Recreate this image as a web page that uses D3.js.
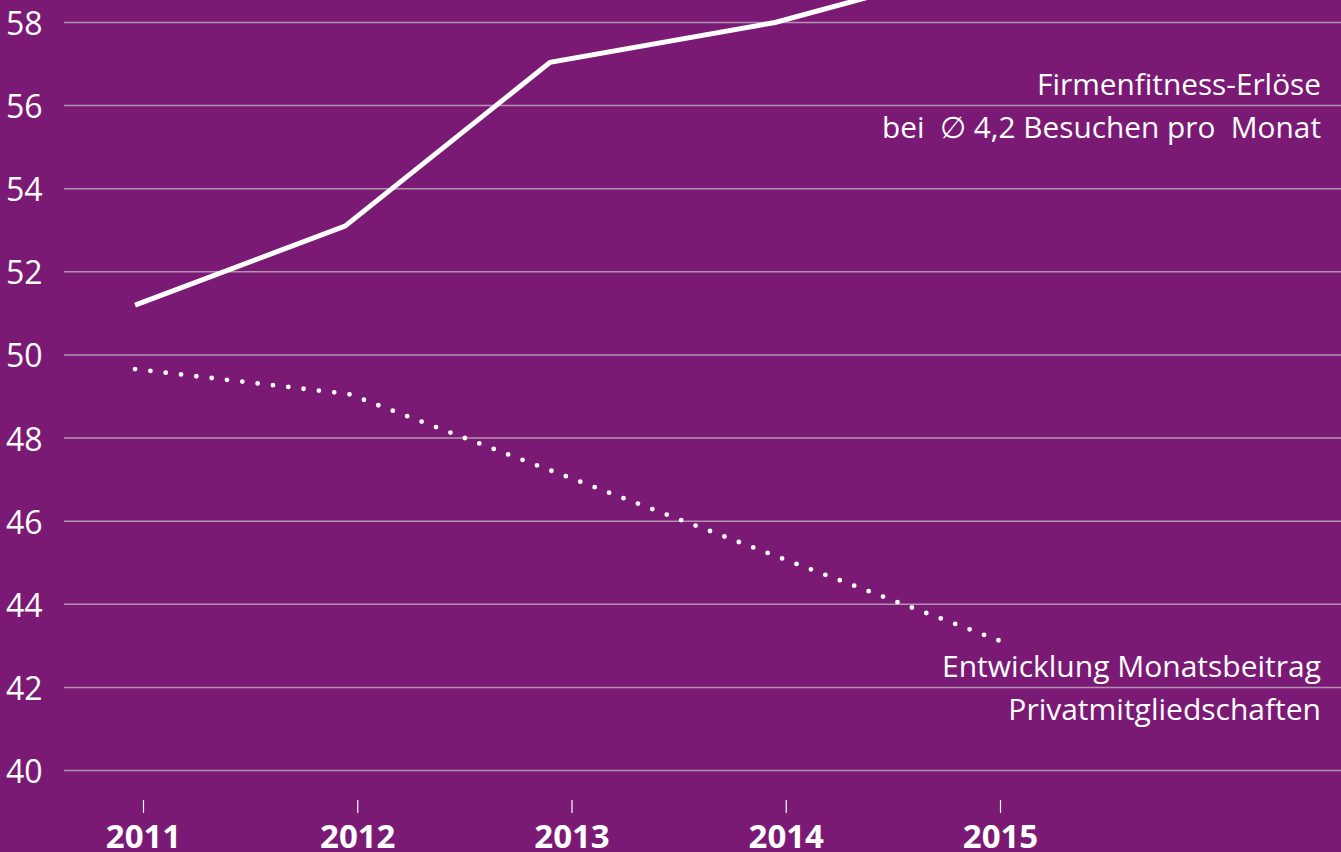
<!DOCTYPE html>
<html><head><meta charset="utf-8">
<script src="https://cdn.jsdelivr.net/npm/d3@7"></script>
<style>
html,body{margin:0;padding:0;background:#7b1a74;overflow:hidden}
svg{display:block}
</style></head>
<body>
<script>
// ---- data ----
const years = [2011, 2012, 2013, 2014, 2015];
const yTicks = [40, 42, 44, 46, 48, 50, 52, 54, 56, 58];
const firmX = [2010.963, 2011.943, 2012.90, 2013.95, 2015.0];
const firmY = [51.2, 53.1, 57.04, 58.0, 59.47];
// Entwicklung Monatsbeitrag Privatmitgliedschaften (dotted line)
const privX = [2010.963, 2011.96, 2013.0, 2014.0, 2014.995];
const privY = [49.66, 49.06, 47.03, 45.07, 43.13];
const labelFirm = ["Firmenfitness-Erlöse", "bei  \u2205 4,2 Besuchen pro  Monat"];
const labelPriv = ["Entwicklung Monatsbeitrag", "Privatmitgliedschaften"];

const W = 1341, H = 852;
const bg = "#7b1a74", grid = "#b493b0";
const font = "'Open Sans', 'Noto Sans', sans-serif";

const svg = d3.select("body").append("svg").attr("width", W).attr("height", H);
svg.append("rect").attr("width", W).attr("height", H).attr("fill", bg);

const x = d3.scaleLinear().domain([2011, 2015]).range([143, 1000]);
const y = d3.scaleLinear().domain([40, 58]).range([770.5, 22.5]);

// grid lines + y labels
const gy = svg.append("g");
gy.selectAll("line").data(yTicks).join("line")
  .attr("x1", 64).attr("x2", W)
  .attr("y1", d => y(d)).attr("y2", d => y(d))
  .attr("stroke", grid).attr("stroke-width", 1.5);
gy.selectAll("text").data(yTicks).join("text")
  .attr("x", 6).attr("y", d => y(d) + 12.5)
  .attr("fill", "#fff").attr("font-family", font).attr("font-size", 32)
  .text(d => d);

// x axis ticks + labels
const xAxis = d3.axisBottom(x).tickValues(years).tickFormat(d3.format("d")).tickSize(13).tickPadding(0);
const ga = svg.append("g").attr("transform", "translate(0,800)").call(xAxis);
ga.select(".domain").remove();
ga.selectAll(".tick line").attr("stroke", "#fff").attr("stroke-width", 1.2);
ga.selectAll(".tick text").attr("fill", "#fff").attr("font-family", font)
  .attr("font-size", 33).attr("font-weight", 700)
  .attr("y", 48).attr("dy", "0");

const line = d3.line().x(d => x(d[0])).y(d => y(d[1]));

// solid line
svg.append("path").datum(d3.zip(firmX, firmY))
  .attr("d", line).attr("fill", "none").attr("stroke", "#fff")
  .attr("stroke-width", 5).attr("stroke-linejoin", "miter");

// dotted line
const dotted = svg.append("path").datum(d3.zip(privX, privY))
  .attr("d", line).attr("fill", "none").attr("stroke", "#fff")
  .attr("stroke-width", 4.8).attr("stroke-linecap", "round");
const len = dotted.node().getTotalLength();
const n = Math.round(len / 15.5);
const gap = (len - 0.5) / n;
dotted.attr("stroke-dasharray", "0 " + gap);

// labels
function label(lines, baseY, size) {
  svg.append("g").selectAll("text").data(lines).join("text")
    .attr("x", 1321).attr("y", (d, i) => baseY + i * 43)
    .attr("text-anchor", "end").attr("fill", "#fff")
    .attr("font-family", font).attr("font-size", size)
    .style("white-space", "pre").attr("xml:space", "preserve")
    .text(d => d);
}
label(labelFirm, 95, 29.8);
label(labelPriv, 677, 30);
</script>
</body></html>
